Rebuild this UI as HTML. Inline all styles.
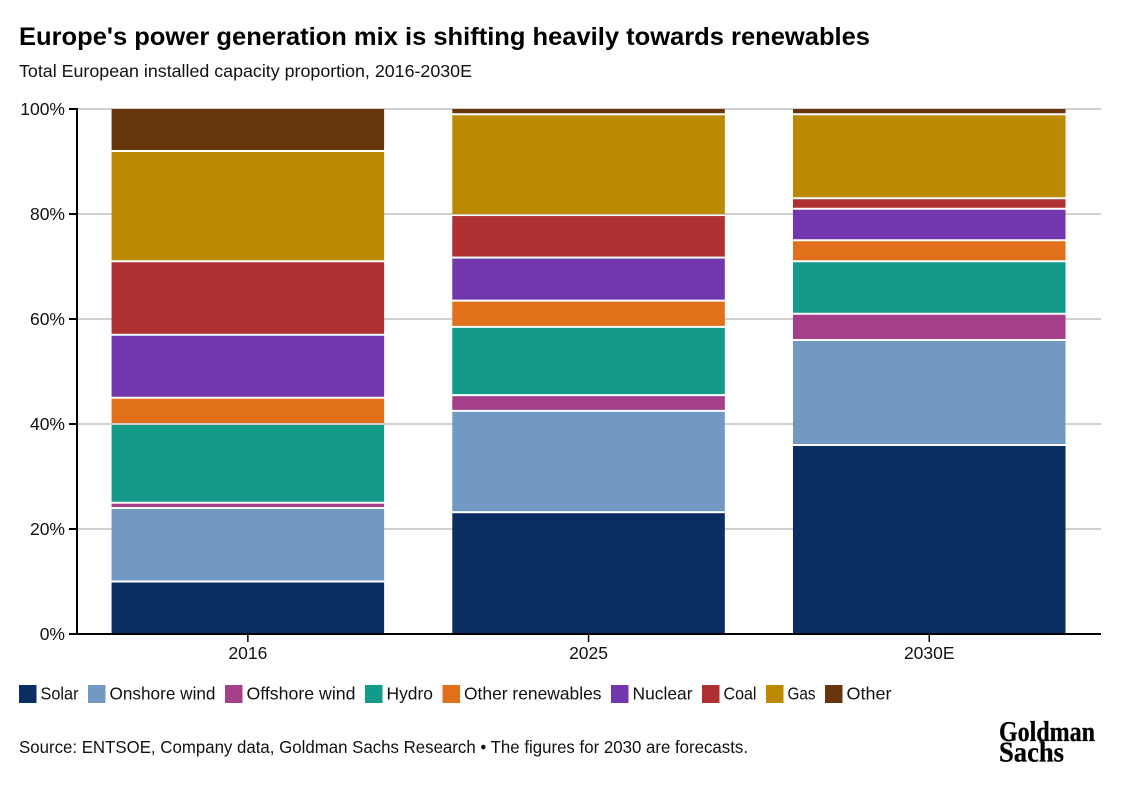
<!DOCTYPE html>
<html lang="en">
<head>
<meta charset="utf-8">
<title>Europe's power generation mix</title>
<style>
html,body{margin:0;padding:0;background:#fff;}
svg{display:block;font-family:"Liberation Sans",sans-serif;fill:#111;}
</style>
</head>
<body>
<svg id="chart" xmlns="http://www.w3.org/2000/svg" width="1132" height="786" viewBox="0 0 1132 786">
  <text x="19" y="45" font-size="25" font-weight="700" fill="#000" textLength="851" lengthAdjust="spacingAndGlyphs">Europe's power generation mix is shifting heavily towards renewables</text>
  <text x="19" y="77" font-size="17.5" textLength="453" lengthAdjust="spacingAndGlyphs">Total European installed capacity proportion, 2016-2030E</text>
  <g id="grid"></g>
  <g id="bars"></g>
  <g id="axes"></g>
  <g id="legend"></g>
  <text x="19" y="753" font-size="17.5" textLength="729" lengthAdjust="spacingAndGlyphs">Source: ENTSOE, Company data, Goldman Sachs Research • The figures for 2030 are forecasts.</text>
  <g font-family="'Liberation Serif',serif" font-weight="700" font-size="29" fill="#000" stroke="#000" stroke-width="0.3">
    <text x="999" y="741" textLength="96" lengthAdjust="spacingAndGlyphs">Goldman</text>
    <text x="999" y="761.5" textLength="65" lengthAdjust="spacingAndGlyphs">Sachs</text>
  </g>
</svg>
<script>
const categories = ['2016', '2025', '2030E'];
const seriesNames = ['Solar', 'Onshore wind', 'Offshore wind', 'Hydro', 'Other renewables', 'Nuclear', 'Coal', 'Gas', 'Other'];
const solar = [10, 23.2, 36];
const onshoreWind = [14, 19.3, 20];
const offshoreWind = [1, 3, 5];
const hydro = [15, 13, 10];
const otherRenewables = [5, 5, 4];
const nuclear = [12, 8.2, 6];
const coal = [14, 8.1, 2];
const gas = [21, 19.2, 16];
const other = [8, 1, 1];
const yTicks = [0, 20, 40, 60, 80, 100];

const seriesValues = [solar, onshoreWind, offshoreWind, hydro, otherRenewables, nuclear, coal, gas, other];
const seriesColors = ['#0a2d62', '#7298c4', '#a63f8a', '#149a88', '#e0711a', '#7337ad', '#ae3030', '#bc8a00', '#68360d'];
const legendTextWidths = [38, 106, 109, 46.5, 137.5, 60, 33, 28, 45];

const NS = 'http://www.w3.org/2000/svg';
const axisLeft = 77, axisRight = 1101, plotTop = 109, plotBottom = 634;
const bandLeft = 77.5, bandRight = 1099.6;
const bandWidth = (bandRight - bandLeft) / categories.length;
const barWidth = bandWidth * 0.8;
const segmentGap = 1;
const xCenter = i => bandLeft + bandWidth * (i + 0.5);
const yScale = v => plotBottom - (v / 100) * (plotBottom - plotTop);

function make(tag, parent, attrs) {
  const el = document.createElementNS(NS, tag);
  for (const k in attrs) el.setAttribute(k, attrs[k]);
  parent.appendChild(el);
  return el;
}
const grid = document.getElementById('grid');
const bars = document.getElementById('bars');
const axes = document.getElementById('axes');
const legend = document.getElementById('legend');

yTicks.forEach(t => {
  if (t === 0) return;
  const line = make('line', grid, {x1: axisLeft, x2: axisRight, y1: yScale(t), y2: yScale(t), stroke: '#d0d0d0', 'stroke-width': 2});
  
  
});

categories.forEach((c, i) => {
  let cum = 0;
  seriesValues.forEach((vals, s) => {
    const top = yScale(cum + vals[i]) + (s < seriesValues.length - 1 ? segmentGap : 0);
    const bottom = yScale(cum) - (s > 0 ? segmentGap : 0);
    const seg = make('rect', bars, {x: xCenter(i) - barWidth / 2, y: top, width: barWidth, height: Math.max(0, bottom - top), fill: seriesColors[s]});
    
    
    cum += vals[i];
  });
});

const yAxis = make('line', axes, {x1: axisLeft, x2: axisLeft, y1: plotTop - 1, y2: plotBottom + 1, stroke: '#000', 'stroke-width': 2});


const xAxis = make('line', axes, {x1: axisLeft, x2: axisRight, y1: plotBottom, y2: plotBottom, stroke: '#000', 'stroke-width': 2});



yTicks.forEach(t => {
  const tick = make('line', axes, {x1: axisLeft - 8, x2: axisLeft, y1: yScale(t), y2: yScale(t), stroke: '#000', 'stroke-width': 2});
  
  
  const label = make('text', axes, {x: axisLeft - 12, y: yScale(t) + 6, 'text-anchor': 'end', 'font-size': 17.5});
  
  
  label.textContent = t + '%';
});

categories.forEach((c, i) => {
  const tick = make('line', axes, {x1: xCenter(i), x2: xCenter(i), y1: plotBottom, y2: plotBottom + 8, stroke: '#000', 'stroke-width': 1.5});
  
  
  const label = make('text', axes, {x: xCenter(i), y: plotBottom + 25, 'text-anchor': 'middle', 'font-size': 17.5});
  
  
  label.textContent = c;
});

let legendX = 19;
seriesNames.forEach((name, s) => {
  const swatch = make('rect', legend, {x: legendX, y: 685, width: 17.5, height: 18, fill: seriesColors[s]});
  
  
  const label = make('text', legend, {x: legendX + 21.5, y: 699.5, 'font-size': 17.5, textLength: legendTextWidths[s], lengthAdjust: 'spacingAndGlyphs'});
  
  
  label.textContent = name;
  legendX += 21.5 + legendTextWidths[s] + 9.5;
});
</script>
</body>
</html>
